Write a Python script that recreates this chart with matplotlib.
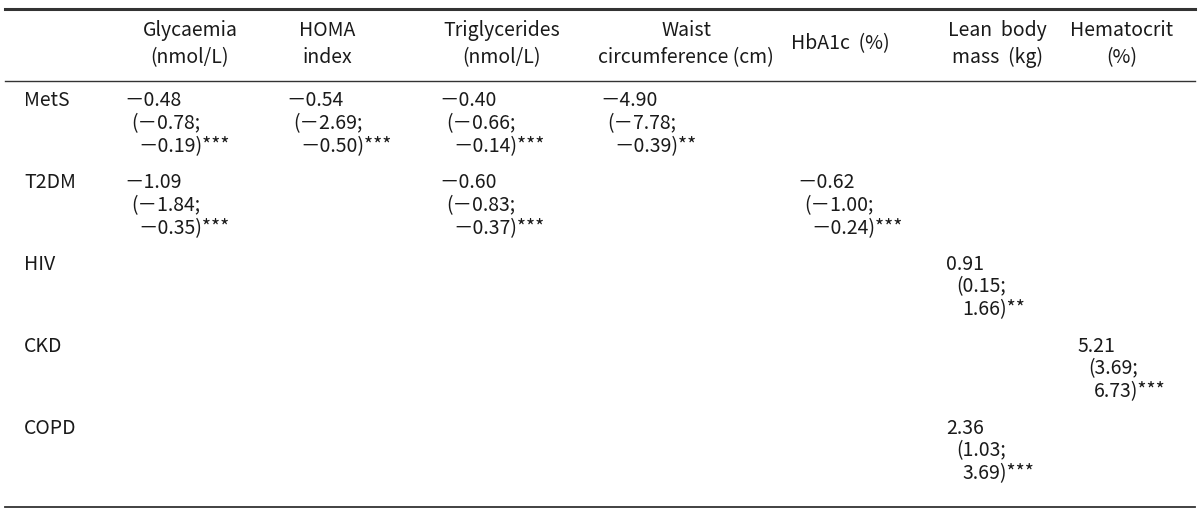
import matplotlib.pyplot as plt

plt.rcParams['font.family'] = ['Noto Sans CJK KR', 'DejaVu Sans']

row_labels = ['MetS', 'T2DM', 'HIV', 'CKD', 'COPD']
col_headers = ['Glycaemia\n(nmol/L)', 'HOMA\nindex', 'Triglycerides\n(nmol/L)',
               'Waist\ncircumference (cm)', 'HbA1c  (%)', 'Lean  body\nmass  (kg)',
               'Hematocrit\n(%)']

# one entry per filled cell
cell_row = [0, 0, 0, 0, 1, 1, 1, 2, 3, 4]
cell_col = [0, 1, 2, 3, 0, 2, 4, 5, 6, 5]
estimate = [-0.48, -0.54, -0.40, -4.90, -1.09, -0.60, -0.62, 0.91, 5.21, 2.36]
ci_low = [-0.78, -2.69, -0.66, -7.78, -1.84, -0.83, -1.00, 0.15, 3.69, 1.03]
ci_high = [-0.19, -0.50, -0.14, -0.39, -0.35, -0.37, -0.24, 1.66, 6.73, 3.69]
stars = ['***', '***', '***', '**', '***', '***', '***', '**', '***', '***']

col_center = [190, 327, 502, 686, 840, 997, 1122]
col_left = [124, 286, 439, 600, 797, 946, 1078]
label_x = 24
row_top = [101, 183, 264, 346, 428]
line_gap = 23

def fmt(v):
    s = f'{abs(v):.2f}'
    return ('\uff0d' + s) if v < 0 else s

fig = plt.figure(figsize=(12, 5.16), dpi=100)
ax = fig.add_axes([0, 0, 1, 1])
ax.set_xlim(0, 1200)
ax.set_ylim(516, 0)
ax.axis('off')

fs = 14
tc = '#1a1a1a'

ax.plot([5, 1195], [9, 9], color='#333333', lw=2.2)
ax.plot([5, 1195], [81, 81], color='#333333', lw=1.0)
ax.plot([5, 1195], [507, 507], color='#333333', lw=1.3)

for i, h in enumerate(col_headers):
    ax.text(col_center[i], 44, h, ha='center', va='center', fontsize=fs,
            color=tc, linespacing=1.4)

for i, lab in enumerate(row_labels):
    ax.text(label_x, row_top[i], lab, ha='left', va='center', fontsize=fs, color=tc)

for k in range(len(estimate)):
    x = col_left[cell_col[k]]
    y = row_top[cell_row[k]]
    neg = ci_low[k] < 0
    ax.text(x, y, fmt(estimate[k]), ha='left', va='center', fontsize=fs, color=tc)
    ax.text(x + (7 if neg else 10), y + line_gap, '(' + fmt(ci_low[k]) + ';',
            ha='left', va='center', fontsize=fs, color=tc)
    ax.text(x + (14 if neg else 16), y + 2 * line_gap, fmt(ci_high[k]) + ')' + stars[k],
            ha='left', va='center', fontsize=fs, color=tc)

fig.savefig('out.png', dpi=100)
